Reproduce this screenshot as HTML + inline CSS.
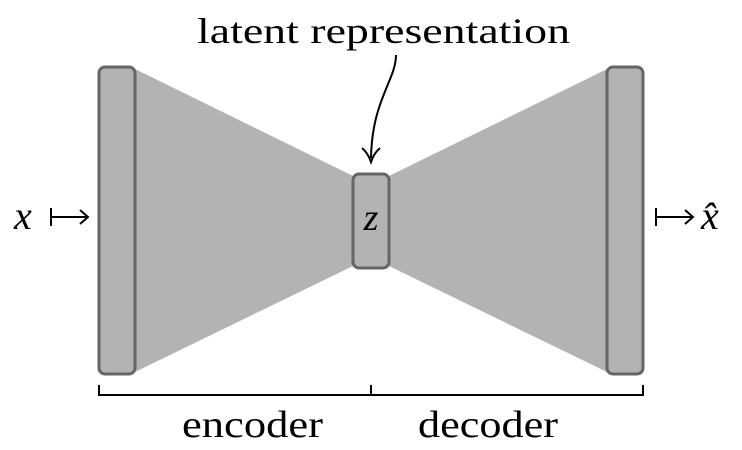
<!DOCTYPE html>
<html><head><meta charset="utf-8"><style>
html,body{margin:0;padding:0;background:#fff;}
svg{display:block;}
text{font-family:"Liberation Serif",serif;fill:#000;}
</style></head><body>
<svg width="742" height="450" viewBox="0 0 742 450">
<polygon points="135,69 353,176 353,266 135,372" fill="#b3b3b3"/>
<polygon points="389,176 607,69 607,372 389,266" fill="#b3b3b3"/>
<rect x="99" y="67" width="36" height="307" rx="6" fill="#b3b3b3" stroke="#666" stroke-width="3"/>
<rect x="353" y="174" width="36" height="94" rx="6" fill="#b3b3b3" stroke="#666" stroke-width="3"/>
<rect x="607" y="67" width="36" height="307" rx="6" fill="#b3b3b3" stroke="#666" stroke-width="3"/>
<text x="371" y="230" font-size="38" font-style="italic" text-anchor="middle">z</text>
<text x="14" y="229" font-size="40" font-style="italic">x</text>
<path d="M51,208 V226 M51,217 H87 M80,210 L88,217 L80,224" fill="none" stroke="#000" stroke-width="2"/>
<path d="M656,208 V226 M656,217 H692 M685,210 L693,217 L685,224" fill="none" stroke="#000" stroke-width="2"/>
<text x="701" y="229" font-size="40" font-style="italic">x̂</text>
<text x="197" y="43" font-size="36" textLength="373" lengthAdjust="spacingAndGlyphs">latent representation</text>
<path d="M396,55 C396,80 372,100 371,158" fill="none" stroke="#000" stroke-width="2"/>
<path d="M362,148 Q368,153 371,162 Q374,153 380,148" fill="none" stroke="#000" stroke-width="2"/>
<path d="M99,385 V395 H643 V385 M371,385 V395" fill="none" stroke="#000" stroke-width="2"/>
<text x="182" y="437" font-size="38" textLength="141" lengthAdjust="spacingAndGlyphs">encoder</text>
<text x="418" y="437" font-size="38" textLength="140" lengthAdjust="spacingAndGlyphs">decoder</text>
</svg>
</body></html>
